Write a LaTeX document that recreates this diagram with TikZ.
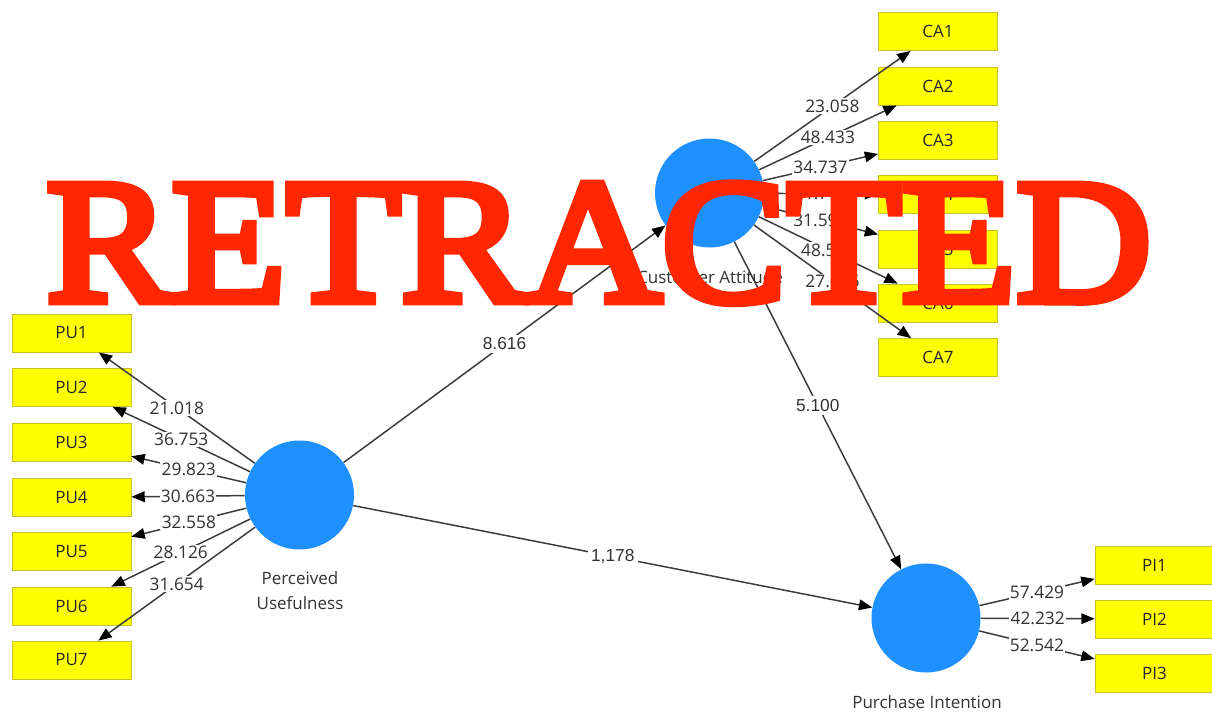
\documentclass[tikz,border=0pt]{standalone}
\usepackage{fontspec}
\usetikzlibrary{arrows.meta}
\newfontfamily\uifont{Open Sans}
\newfontfamily\arfont{Liberation Sans}
\newfontfamily\retfont[FakeBold=5,FakeStretch=1.06]{Liberation Serif}
\definecolor{lvc}{RGB}{30,144,255}
\definecolor{indc}{RGB}{255,255,0}
\definecolor{indb}{RGB}{196,196,40}
\definecolor{lnc}{RGB}{58,58,58}
\definecolor{txtc}{RGB}{50,50,50}
\definecolor{retc}{RGB}{255,38,0}
\begin{document}
\begin{tikzpicture}[x=0.75pt,y=-0.75pt,
 indbox/.style={draw=indb, fill=indc, line width=0.6pt, minimum width=89.25pt, minimum height=28.5pt, inner sep=0pt, font=\uifont\fontsize{12.75}{15}\selectfont, text=black!85},
 lvnode/.style={circle, fill=lvc, minimum size=81.75pt, inner sep=0pt},
 lvlab/.style={font=\uifont\fontsize{12.75}{18.75}\selectfont, text=txtc, align=center},
 ld/.style={draw=lnc, line width=1.1pt, -{Triangle[length=10pt,width=8pt,color=black]}},
 wl/.style={fill=white, inner sep=1pt, font=\uifont\fontsize{13}{15}\selectfont, text=txtc},
 pl/.style={fill=white, inner sep=2.5pt, font=\arfont\fontsize{13}{15}\selectfont, text=txtc},
]
\useasboundingbox[fill=white] (0,0) rectangle (1212,713);

% latent variables
\node[lvnode] (pu) at (299.5,495) {};
\node[lvnode] (ca) at (709.5,193) {};
\node[lvnode] (pi) at (926,618) {};
\node[lvlab] (pul) at (300,590.5) {Perceived\\Usefulness};
\node[lvlab] (cal) at (710,277) {Customer Attitude};
\node[lvlab] (pil) at (927,702) {Purchase Intention};

% indicators
\foreach \i/\y in {1/333,2/387.5,3/442.5,4/497.5,5/551.5,6/606,7/660}
  \node[indbox] (pu\i) at (71.5,\y) {PU\i};
\foreach \i/\y in {1/31.5,2/86,3/140,4/194.5,5/249,6/303,7/357.5}
  \node[indbox] (ca\i) at (938,\y) {CA\i};
\foreach \i/\y in {1/565,2/619,3/673.5}
  \node[indbox] (pi\i) at (1154.5,\y) {PI\i};

% outer model
\foreach \i/\v in {1/21.018,2/36.753,3/29.823,4/30.663,5/32.558,6/28.126,7/31.654}
  \draw[ld] (pu) -- node[wl,midway] {\v} (pu\i);
\foreach \i/\v in {1/23.058,2/48.433,3/34.737,4/31.740,5/31.596,6/48.595,7/27.636}
  \draw[ld] (ca) -- node[wl,midway] {\v} (ca\i);
\foreach \i/\v in {1/57.429,2/42.232,3/52.542}
  \draw[ld] (pi) -- node[wl,midway] {\v} (pi\i);

% inner model
\draw[ld] (pu) -- node[pl,midway] {8.616} (ca);
\draw[ld] (pu) -- node[pl,midway] {1,178} (pi);
\draw[ld] (ca) -- node[pl,midway] {5.100} (pi);

% overlay
\node[anchor=base west, inner sep=0pt, text=retc, font=\retfont\fontsize{132.8}{140}\selectfont] (ret) at (46,301) {RETRACTED};
\end{tikzpicture}
\end{document}
